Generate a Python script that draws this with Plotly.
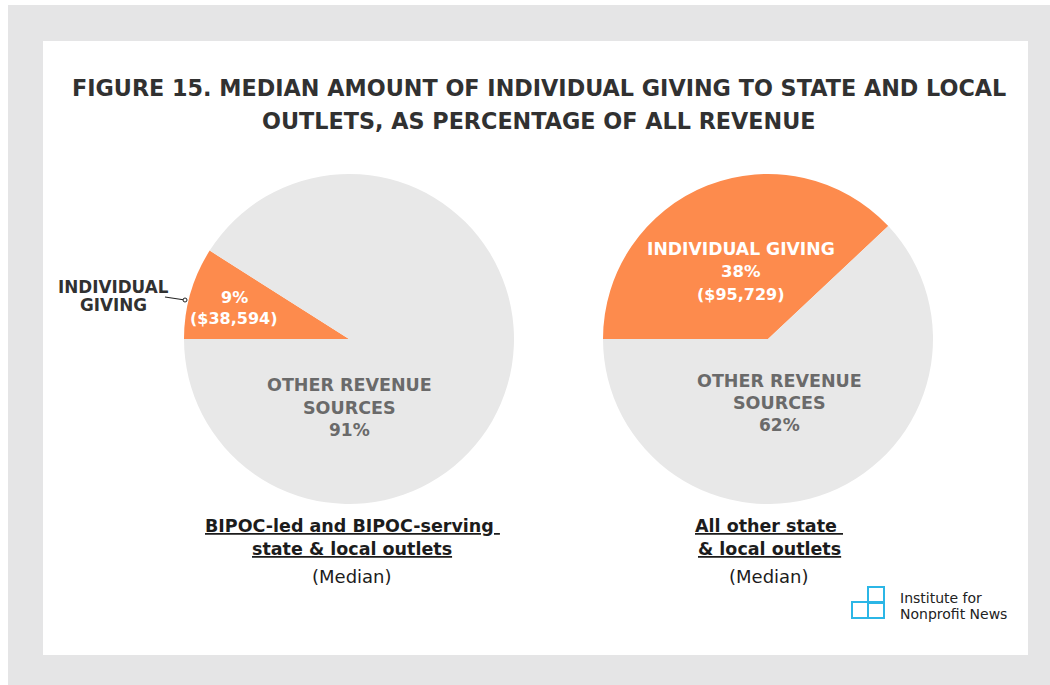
import plotly.graph_objects as go

# Revenue shares (percent) for each group of outlets
categories = ["Individual giving", "Other revenue sources"]
bipoc_share = [9, 91]
other_share = [38, 62]
bipoc_amount = "$38,594"
other_amount = "$95,729"
group_titles = [["BIPOC-led and BIPOC-serving ", "state & local outlets"],
                ["All other state ", "& local outlets"]]

W, H = 1050, 685
ORANGE = "#fd8b4d"
PIE_GRAY = "#e8e8e8"
TITLE_C = "#313131"
SUB_C = "#6a6a6a"
FONT = "DejaVu Sans"


def px(x):
    return x / W


def py(y):
    return 1 - y / H


fig = go.Figure()

# pie centres/radius in pixels
pies = [((349, 339), bipoc_share), ((768, 339), other_share)]
R = 165
for (cx, cy), vals in pies:
    fig.add_trace(go.Pie(
        labels=categories, values=vals, sort=False,
        direction="clockwise", rotation=270,
        marker=dict(colors=[ORANGE, PIE_GRAY], line=dict(width=0)),
        textinfo="none", hoverinfo="label+percent", showlegend=False,
        domain=dict(x=[px(cx - R), px(cx + R)], y=[py(cy + R), py(cy - R)]),
    ))

ann = []


def txt(x, y, s, size, color, bold=True, xanchor="center", family=FONT):
    ann.append(dict(x=px(x), y=py(y), xref="paper", yref="paper",
                    text=f"<b>{s}</b>" if bold else s, showarrow=False,
                    xanchor=xanchor, yanchor="middle",
                    font=dict(family=family, size=size, color=color)))


# title
txt(539, 88, "FIGURE 15. MEDIAN AMOUNT OF INDIVIDUAL GIVING TO STATE AND LOCAL", 22.3, TITLE_C)
txt(539, 121, "OUTLETS, AS PERCENTAGE OF ALL REVENUE", 22.3, TITLE_C)

# left pie labels
txt(234, 297, f"{bipoc_share[0]}%", 16, "white")
txt(234, 318, f"({bipoc_amount})", 16, "white")
txt(113, 287, "INDIVIDUAL", 16.8, TITLE_C)
txt(113, 305, "GIVING", 16.8, TITLE_C)
txt(349, 385, "OTHER REVENUE", 17.5, SUB_C)
txt(349, 408, "SOURCES", 17.5, SUB_C)
txt(349, 430, f"{bipoc_share[1]}%", 17, SUB_C)

# right pie labels
txt(741, 249, "INDIVIDUAL GIVING", 17.2, "white")
txt(741, 271, f"{other_share[0]}%", 16.5, "white")
txt(741, 294, f"({other_amount})", 16, "white")
txt(779, 381, "OTHER REVENUE", 17.5, SUB_C)
txt(779, 403, "SOURCES", 17.5, SUB_C)
txt(779, 425, f"{other_share[1]}%", 17, SUB_C)

# group captions
for cx, lines in [(352, group_titles[0]), (769, group_titles[1])]:
    txt(cx, 526, f"<u>{lines[0]}</u>", 17.5, "#1c1c1c")
    txt(cx, 549, f"<u>{lines[1]}</u>", 17.5, "#1c1c1c")
    txt(cx, 576, "(Median)", 18, "#1c1c1c", bold=False)

# logo text
txt(898, 598, "Institute for", 14, "#222222", bold=False, xanchor="left")
txt(898, 614, "Nonprofit News", 14, "#222222", bold=False, xanchor="left")

shapes = [
    dict(type="rect", xref="paper", yref="paper", x0=px(8), x1=px(1050),
         y0=py(685), y1=py(5), fillcolor="#e5e5e6", line=dict(width=0), layer="below"),
    dict(type="rect", xref="paper", yref="paper", x0=px(43), x1=px(1028),
         y0=py(655), y1=py(41), fillcolor="white", line=dict(width=0), layer="below"),
    # leader line for the small slice
    dict(type="line", xref="paper", yref="paper", x0=px(165), y0=py(297),
         x1=px(185), y1=py(300), line=dict(color="#222222", width=1.2)),
    dict(type="circle", xref="paper", yref="paper", x0=px(183), y0=py(302),
         x1=px(187), y1=py(298), line=dict(color="#222222", width=1), fillcolor="white"),
]
# logo squares
LOGO = "#2bb6e6"
for x0, y0 in [(852, 602), (868, 602), (868, 587)]:
    shapes.append(dict(type="rect", xref="paper", yref="paper", x0=px(x0), x1=px(x0 + 16),
                       y0=py(y0 + 16), y1=py(y0), line=dict(color=LOGO, width=2),
                       fillcolor="rgba(0,0,0,0)"))

fig.update_layout(width=W, height=H, margin=dict(l=0, r=0, t=0, b=0),
                  paper_bgcolor="white", plot_bgcolor="white",
                  annotations=ann, shapes=shapes)
fig.write_html("out.html")
